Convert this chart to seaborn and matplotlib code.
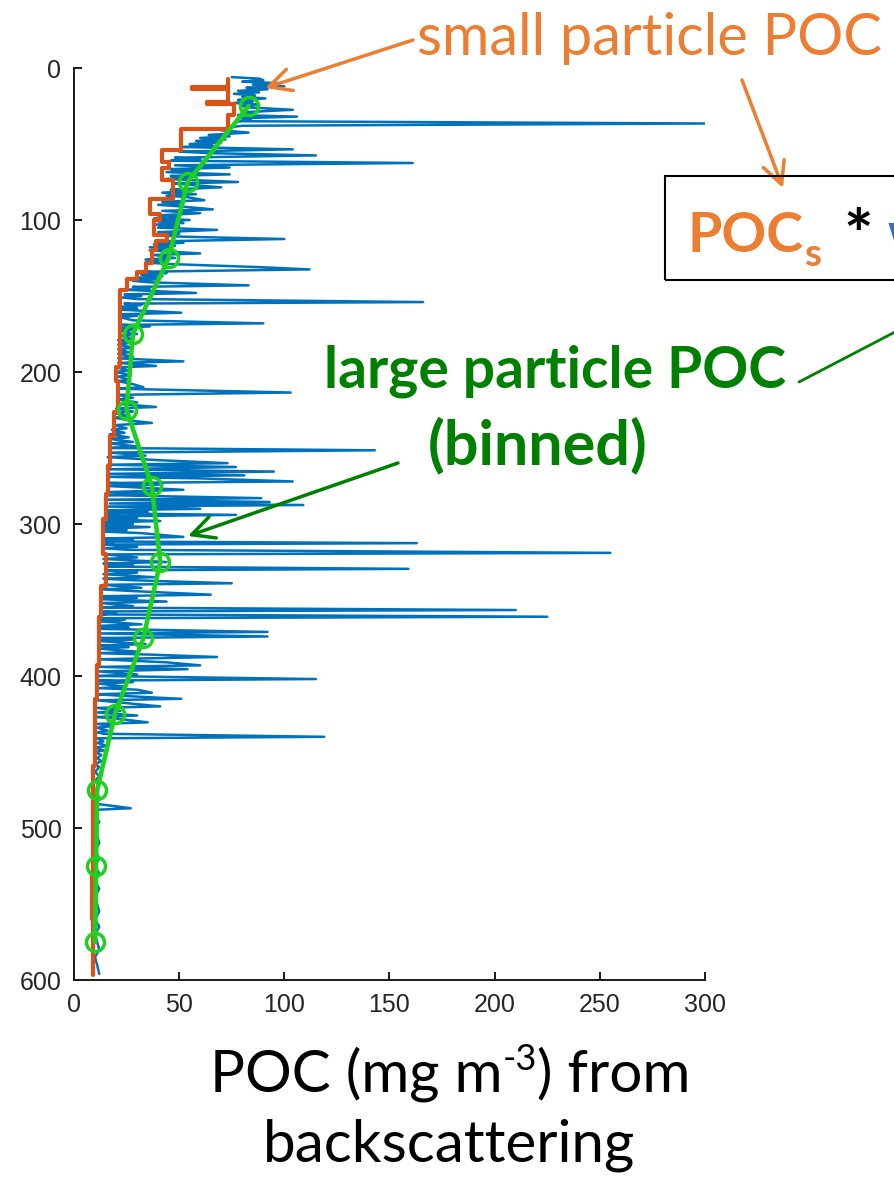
"""POC depth profile from backscattering - small vs large particle POC"""
import matplotlib
matplotlib.use("Agg")
import matplotlib.pyplot as plt
from matplotlib.patches import Rectangle
import seaborn as sns

# 原始剖面 (blue): 深度 m, POC mg m-3
blue_depth = [
    6, 7, 8, 9, 10, 11, 12, 13, 14, 15, 16, 17, 18, 19, 20, 21, 22, 23, 24, 25,
    26, 27.5, 29, 30, 31, 32, 33, 34, 35, 36.5, 38, 39,
    41, 42.5, 44, 45, 46, 47, 48, 49, 50, 51, 52, 53.5, 55, 56, 57.5, 59, 60, 61,
    62.5, 64, 65.5, 66.5, 67.5, 68.5, 70, 71, 72, 73, 75, 76, 77, 78.5, 80, 81,
    82, 83, 84, 85, 87, 88, 89, 90, 91, 93, 94, 95.5, 97, 98, 99, 100, 101, 102,
    103, 104, 105, 106.5, 108, 109, 110, 111, 112.5, 114, 115, 116, 117, 118, 119,
    120, 122, 123, 125, 126, 127, 128, 129, 131, 132.5, 134, 135, 136, 137, 138,
    139, 140, 141, 143, 144, 145, 146, 148, 149, 150, 151, 152, 154, 155, 156,
    157, 158, 159, 161, 162, 163, 164, 166, 168, 169, 170, 171, 172, 173, 175,
    176, 178, 179, 181, 182, 184, 185, 187, 188, 190, 191, 193, 194, 196, 197,
    199, 200, 202, 203, 205, 206, 208, 210, 211, 213.5, 215, 217, 218, 220, 221,
    223, 224, 226, 227, 229, 230, 232, 233.5, 235, 237, 238, 240, 241, 243, 244,
    246, 247, 249, 250, 251.5, 253, 255, 256, 258, 260, 261, 262.5, 264, 265.5,
    267, 268, 269, 270, 272, 273, 274, 275, 277.5, 279, 280, 281, 283, 284, 285.5,
    286.5, 287.5, 288.5, 290, 291, 292, 293, 294, 295, 296, 297, 298, 299, 300,
    301, 302, 303, 304, 305, 306, 308.5, 309.5, 310.5, 311.5, 312.6, 313.5, 315,
    316, 317, 319, 320, 322, 323, 325, 326, 327, 328, 329.5, 330.5, 332, 333, 335,
    336, 337, 339, 340, 342, 343, 344, 346.5, 347.5, 348.5, 349.5, 351, 352, 354,
    355, 356.6, 357.5, 358.5, 359.5, 361, 362, 363, 364, 366, 367, 368, 369, 371,
    372, 374, 375, 376, 377, 379, 380, 381, 382, 384, 385, 386, 387.5, 389, 391,
    393, 394, 395.5, 397, 399, 400, 402, 403, 404, 405, 407, 408, 409, 411, 412,
    413, 415, 416, 418, 420, 421, 423, 424, 426, 427, 428, 430.5, 431.5, 433, 434,
    436, 437, 438, 440, 441, 443, 444, 446, 447, 449, 450, 452, 454, 456, 458, 460,
    463, 466, 469, 472, 476, 480, 484, 487, 488, 492, 496, 500, 505, 510, 515, 520,
    525, 530, 535, 540, 545, 550, 555, 560, 565, 570, 575, 580, 585, 590, 596,
]
blue_poc = [
    75, 88, 90, 80, 98, 85, 100, 82, 92, 78, 88, 76, 86, 80, 91, 78, 85, 76, 88, 80,
    84, 104, 82, 86, 78, 106, 80, 84, 78, 300, 80, 74,
    70, 83, 64, 74, 60, 72, 58, 70, 55, 66, 52, 104, 50, 64, 115, 48, 60, 46,
    161, 48, 74, 46, 58, 44, 74, 46, 56, 44, 78, 48, 56, 70, 46, 55,
    42, 58, 44, 54, 62, 42, 52, 40, 50, 66, 42, 60, 40, 50, 38, 55, 40, 52,
    39, 50, 40, 68, 40, 50, 38, 52, 100, 42, 52, 38, 48, 36, 46,
    36, 60, 38, 48, 34, 44, 34, 46, 88, 112, 34, 44, 32, 42, 30,
    40, 28, 36, 83, 28, 36, 26, 58, 24, 32, 23, 30, 166, 24, 32,
    23, 30, 22, 51, 23, 30, 22, 28, 90, 23, 36, 22, 28, 22, 30,
    22, 28, 21, 26, 21, 28, 21, 26, 21, 28, 21, 52, 21, 39, 20,
    26, 20, 27, 21, 26, 21, 28, 33, 21, 103, 21, 28, 21, 30, 21,
    39, 20, 28, 19, 26, 19, 27, 37, 19, 25, 18, 24, 17, 26, 17,
    28, 17, 30, 17, 143, 17, 34, 16, 40, 73, 16, 77, 17, 95,
    17, 81, 16, 60, 104, 17, 42, 16, 52, 16, 38, 15, 89, 15, 93,
    17, 109, 16, 60, 15, 35, 16, 77, 15, 30, 16, 41, 15, 28,
    14, 36, 15, 25, 14, 32, 52, 15, 28, 14, 163, 15, 30,
    14, 26, 255, 15, 30, 14, 44, 14, 28, 15, 159, 15, 30, 14, 38,
    14, 28, 75, 14, 32, 13, 26, 65, 13, 30, 13, 44, 13, 28,
    13, 210, 13, 20, 13, 225, 12, 24, 12, 32, 12, 26, 12, 92,
    12, 92, 12, 28, 12, 34, 12, 26, 12, 30, 12, 38, 68, 12, 44,
    60, 12, 54, 12, 30, 12, 115, 12, 28, 12, 24, 12, 30, 37, 11,
    22, 51, 11, 26, 41, 11, 22, 11, 30, 11, 20, 35, 11, 18, 11,
    16, 11, 14, 119, 11, 14, 11, 16, 10, 14, 10, 13, 11, 13, 10, 12,
    10, 12, 10, 12, 10, 12, 10, 27, 11, 10, 12, 10, 11, 12, 10, 12,
    10, 12, 10, 12, 10, 11, 12, 10, 12, 10, 11, 12, 10, 11, 12,
]

# 小颗粒 POC (orange, 阶梯)
small_depth = [7, 12.5, 13.5, 22.5, 24, 31, 40, 54, 62, 66, 74, 86, 96, 100, 110,
               114, 120, 128, 134, 139, 146, 197, 206, 226, 242, 262, 280, 297,
               320, 341, 361, 393, 415, 459, 530, 560, 597]
small_poc = [73, 56, 73, 63, 76, 73, 51, 42, 45, 42, 47, 36, 41, 38, 44,
             39, 37, 34, 30, 25, 22, 20, 21, 19, 17, 16, 15, 14,
             15, 13, 12, 11, 10, 9, 8.5, 9, 9]

# 大颗粒 POC 分箱 (green)
bin_depth = [25, 75, 125, 175, 225, 275, 325, 375, 425, 475, 525, 575]
bin_poc = [83, 54, 45, 28, 25, 37, 41, 33, 19.5, 11, 10.5, 10]

x_ticks = [0, 50, 100, 150, 200, 250, 300]
y_ticks = [0, 100, 200, 300, 400, 500, 600]

BLUE = "#0072BD"
ORANGE_LINE = "#D95319"
ORANGE_TXT = "#ED7D31"
GREEN_LINE = "#1FD11F"
GREEN_TXT = "#008000"

W, H = 895, 1178

sns.set_theme(style="white")
plt.rcParams["font.family"] = ["Liberation Sans", "DejaVu Sans"]


def fxy(x, y):
    """像素坐标 (左上为原点) -> figure fraction"""
    return (x / W, 1 - y / H)


fig = plt.figure(figsize=(W / 100, H / 100), dpi=100)
ax = fig.add_axes([74 / W, 1 - 980 / H, 631 / W, 912 / H])

sns.lineplot(x=blue_poc, y=blue_depth, sort=False, estimator=None,
             color=BLUE, lw=1.8, ax=ax)
sns.lineplot(x=small_poc, y=small_depth, sort=False, estimator=None,
             color=ORANGE_LINE, lw=3, drawstyle="steps-pre", ax=ax)
sns.lineplot(x=bin_poc, y=bin_depth, sort=False, estimator=None,
             color=GREEN_LINE, lw=3.3, marker="o", markersize=13,
             markerfacecolor="none", markeredgecolor=GREEN_LINE,
             markeredgewidth=2.5, ax=ax)

ax.set_xlim(0, 300)
ax.set_ylim(600, 0)
ax.set_xticks(x_ticks)
ax.set_yticks(y_ticks)
ax.set_xlabel("")
ax.set_ylabel("")
for side in ["top", "right"]:
    ax.spines[side].set_visible(False)
for side in ["left", "bottom"]:
    ax.spines[side].set_linewidth(1.4)
    ax.spines[side].set_color("#1a1a1a")
ax.tick_params(direction="in", length=6, width=1.4, color="#1a1a1a",
               labelsize=18, labelcolor="#262626", pad=9,
               left=True, bottom=True)

arrow_head = "->,head_length=0.8,head_width=0.4"

# 文字标注: small particle POC
fig.text(*fxy(417, 55), "small particle POC", ha="left", va="baseline",
         fontsize=41.5, color=ORANGE_TXT, family="Lato")
ax.annotate("", xy=fxy(265, 88), xycoords="figure fraction",
            xytext=fxy(413, 40), textcoords="figure fraction",
            arrowprops=dict(arrowstyle=arrow_head, color=ORANGE_TXT, lw=2.5,
                            mutation_scale=20, shrinkA=0, shrinkB=0))
ax.annotate("", xy=fxy(783, 188), xycoords="figure fraction",
            xytext=fxy(742, 80), textcoords="figure fraction",
            arrowprops=dict(arrowstyle=arrow_head, color=ORANGE_TXT, lw=2.5,
                            mutation_scale=20, shrinkA=0, shrinkB=0))

# 方框公式 (右侧被裁切)
fig.add_artist(Rectangle(fxy(665, 280), 260 / W, 104 / H,
                         transform=fig.transFigure, fill=False,
                         lw=1.5, ec="black"))
fig.text(*fxy(688, 252), "POC", ha="left", va="baseline", fontsize=40,
         fontweight="bold", color=ORANGE_TXT, family="Lato")
fig.text(*fxy(804, 266), "s", ha="left", va="baseline", fontsize=28,
         fontweight="bold", color=ORANGE_TXT, family="Lato")
fig.text(*fxy(843, 259), "*", ha="left", va="baseline", fontsize=50,
         fontweight="bold", color="black", family="Lato")
fig.text(*fxy(888, 252), "w", ha="left", va="baseline", fontsize=40,
         fontweight="bold", color="#2E75B6", family="Lato")

# 文字标注: large particle POC
fig.text(*fxy(555, 388), "large particle POC", ha="center", va="baseline",
         fontsize=41, fontweight="bold", color=GREEN_TXT, family="Lato")
fig.text(*fxy(538, 464), "(binned)", ha="center", va="baseline",
         fontsize=44, fontweight="bold", color=GREEN_TXT, family="Lato")
ax.annotate("", xy=fxy(895, 332), xycoords="figure fraction",
            xytext=fxy(799, 382), textcoords="figure fraction",
            arrowprops=dict(arrowstyle="-", color=GREEN_TXT, lw=2,
                            shrinkA=0, shrinkB=0))
ax.annotate("", xy=fxy(188, 536), xycoords="figure fraction",
            xytext=fxy(398, 463), textcoords="figure fraction",
            arrowprops=dict(arrowstyle=arrow_head, color=GREEN_TXT, lw=2.5,
                            mutation_scale=20, shrinkA=0, shrinkB=0))

# x 轴标题: 上标用连字符, 分段放置
renderer = fig.canvas.get_renderer()
parts = [("POC (mg m", 42, 0), ("-3", 26, 21), (") from", 42, 0)]
texts = []
for s, size, rise in parts:
    t = fig.text(0, 0, s, ha="left", va="baseline", fontsize=size,
                 color="black", family="Lato")
    texts.append((t, rise))
widths = [t.get_window_extent(renderer).width for t, _ in texts]
x0 = 450 - sum(widths) / 2
for (t, rise), w in zip(texts, widths):
    t.set_position(fxy(x0, 1091 - rise))
    x0 += w
fig.text(*fxy(449, 1161), "backscattering", ha="center", va="baseline",
         fontsize=42, color="black", family="Lato")

fig.savefig("out.png", dpi=100, facecolor="white")
